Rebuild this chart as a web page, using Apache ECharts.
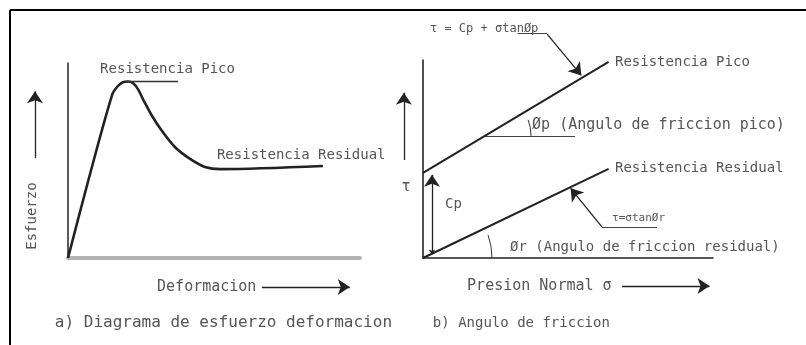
<!DOCTYPE html>
<html><head><meta charset="utf-8">
<script src="https://cdn.jsdelivr.net/npm/echarts@6/dist/echarts.min.js"></script>
<style>html,body{margin:0;padding:0;background:#fff}#c{width:806px;height:345px}</style>
</head><body><div id="c"></div>
<script>
// a) Diagrama de esfuerzo-deformacion (relative units)
const strainX = [0, 7, 15.2, 17.1, 18.8, 20.5, 22.3, 24.0, 26.0, 28.8, 32.2, 36.6, 41.8, 46.9, 52.1, 87.3];
const stressY = [0, 40, 84.0, 88.2, 90.1, 90.5, 89.6, 86.5, 80.5, 72.8, 65.1, 56.9, 50.8, 46.7, 45.6, 47.2];
const peakRefX = [20.5, 37.7];
const peakRefY = [90.5, 90.5];
// b) Angulo de friccion: envolventes de resistencia
const envelopeX = [0, 64];
const peakEnvelopeY = [43, 99];
const residualEnvelopeY = [0, 45];
// text labels
const labelsA = ['Resistencia Pico', 'Resistencia Residual', 'Esfuerzo', 'Deformacion', 'a) Diagrama de esfuerzo deformacion'];
const labelsB = ['Resistencia Pico', 'Resistencia Residual', 'τ = Cp + σtanØp', 'Øp (Angulo de friccion pico)', 'Cp', 'τ', 'τ=σtanØr', 'Ør (Angulo de friccion residual)', 'Presion Normal σ', 'b) Angulo de friccion'];

const FONT = 'DejaVu Sans Mono';
const TXT = '#555';
const chart = echarts.init(document.getElementById('c'), null, {renderer: 'canvas'});

function zip(xs, ys) { return xs.map((x, i) => [x, ys[i]]); }
function axisPair(idx, color, width) {
  return {
    type: 'value', gridIndex: idx, min: 0, max: 100,
    axisLine: {show: true, onZero: false, lineStyle: {color: color, width: width}},
    axisTick: {show: false}, axisLabel: {show: false}, splitLine: {show: false}
  };
}
const ax = {type: 'lines', coordinateSystem: 'cartesian2d', clip: false, silent: true,
  lineStyle: {color: '#222', width: 1.3, opacity: 1}, symbolSize: [5, 12]};

chart.setOption({
  animation: false,
  grid: [
    {left: 68, top: 63, width: 292, height: 195},
    {left: 423, top: 60, width: 290, height: 198}
  ],
  xAxis: [axisPair(0, '#b4b4b4', 4), axisPair(1, '#222', 1.6)],
  yAxis: [axisPair(0, '#333', 1.6), axisPair(1, '#222', 1.6)],
  series: [
    {type: 'line', xAxisIndex: 0, yAxisIndex: 0, data: zip(strainX, stressY), smooth: 0.3,
     showSymbol: false, clip: false, lineStyle: {color: '#222', width: 2.6}},
    {type: 'line', xAxisIndex: 0, yAxisIndex: 0, data: zip(peakRefX, peakRefY),
     showSymbol: false, clip: false, lineStyle: {color: '#333', width: 1.6}},
    {type: 'line', xAxisIndex: 1, yAxisIndex: 1, data: zip(envelopeX, peakEnvelopeY),
     showSymbol: false, clip: false, lineStyle: {color: '#222', width: 2}},
    {type: 'line', xAxisIndex: 1, yAxisIndex: 1, data: zip(envelopeX, residualEnvelopeY),
     showSymbol: false, clip: false, lineStyle: {color: '#222', width: 2}},
    Object.assign({}, ax, {xAxisIndex: 0, yAxisIndex: 0, symbol: ['none', 'arrow'],
      data: [{coords: [[-11.3, 51.3], [-11.3, 85.5]]}, {coords: [[66.4, -14.9], [96.5, -14.9]]}]}),
    Object.assign({}, ax, {xAxisIndex: 1, yAxisIndex: 1, symbol: ['none', 'arrow'],
      data: [
        {coords: [[-6.6, 49.5], [-6.6, 83.5]]},
        {coords: [[68.6, -14.1], [98.8, -14.1]]},
        {coords: [[42.8, 113.1], [54.6, 92.2]]},
        {coords: [[61.7, 15.7], [50.9, 35.2]]}
      ]}),
    Object.assign({}, ax, {xAxisIndex: 1, yAxisIndex: 1, symbol: ['arrow', 'arrow'],
      data: [{coords: [[3.1, 1.8], [3.1, 42]]}]}),
    Object.assign({}, ax, {xAxisIndex: 1, yAxisIndex: 1, symbol: ['none', 'none'],
      lineStyle: {color: '#444', width: 1, opacity: 1},
      data: [
        {coords: [[32.6, 113.4], [42.8, 113.4]]},
        {coords: [[61.7, 15.7], [80.7, 15.7]]},
        {coords: [[21.4, 61.6], [52.4, 61.6]]}
      ]})
  ]
});

function px(g, p) { return chart.convertToPixel({gridIndex: g}, p); }
function text(g, p, t, size, opt) {
  const q = px(g, p);
  return Object.assign({type: 'text', x: q[0], y: q[1], silent: true,
    style: {text: t, fontFamily: FONT, fontSize: size, fill: TXT, align: 'left', verticalAlign: 'middle'}}, opt || {});
}
const esf = text(0, [-12.3, 21.5], labelsA[2], 14);
esf.rotation = Math.PI / 2; esf.style.align = 'center';
const cP = px(1, [21.4, 61.6]);
const c0 = px(1, [0, 0]);
const graphics = [
  {type: 'line', shape: {x1: 10, y1: 10, x2: 806, y2: 10}, style: {stroke: '#000', lineWidth: 2}},
  {type: 'line', shape: {x1: 10, y1: 10, x2: 10, y2: 345}, style: {stroke: '#000', lineWidth: 2}},
  text(0, [11, 96.9], labelsA[0], 14),
  text(0, [51, 52.8], labelsA[1], 14),
  esf,
  text(0, [30.5, -14.9], labelsA[3], 15),
  text(0, [-4.5, -33.3], labelsA[4], 16),
  text(1, [66.2, 99], labelsB[0], 14),
  text(1, [66.2, 45.5], labelsB[1], 14),
  text(1, [2.4, 115.9], labelsB[2], 12),
  text(1, [37.6, 66.9], labelsB[3], 15),
  text(1, [7.6, 27.3], labelsB[4], 14),
  text(1, [-7.4, 36], labelsB[5], 15),
  text(1, [65.2, 19.9], labelsB[6], 11),
  text(1, [30, 5.6], labelsB[7], 14),
  text(1, [15.2, -14.1], labelsB[8], 15),
  text(1, [3.4, -32.8], labelsB[9], 14),
  {type: 'arc', shape: {cx: cP[0], cy: cP[1], r: 46, startAngle: -0.36, endAngle: 0, clockwise: true},
   style: {stroke: '#333', fill: null, lineWidth: 1}},
  {type: 'arc', shape: {cx: c0[0], cy: c0[1], r: 69, startAngle: -0.34, endAngle: 0, clockwise: true},
   style: {stroke: '#333', fill: null, lineWidth: 1}}
];
chart.setOption({graphic: graphics});
</script></body></html>
